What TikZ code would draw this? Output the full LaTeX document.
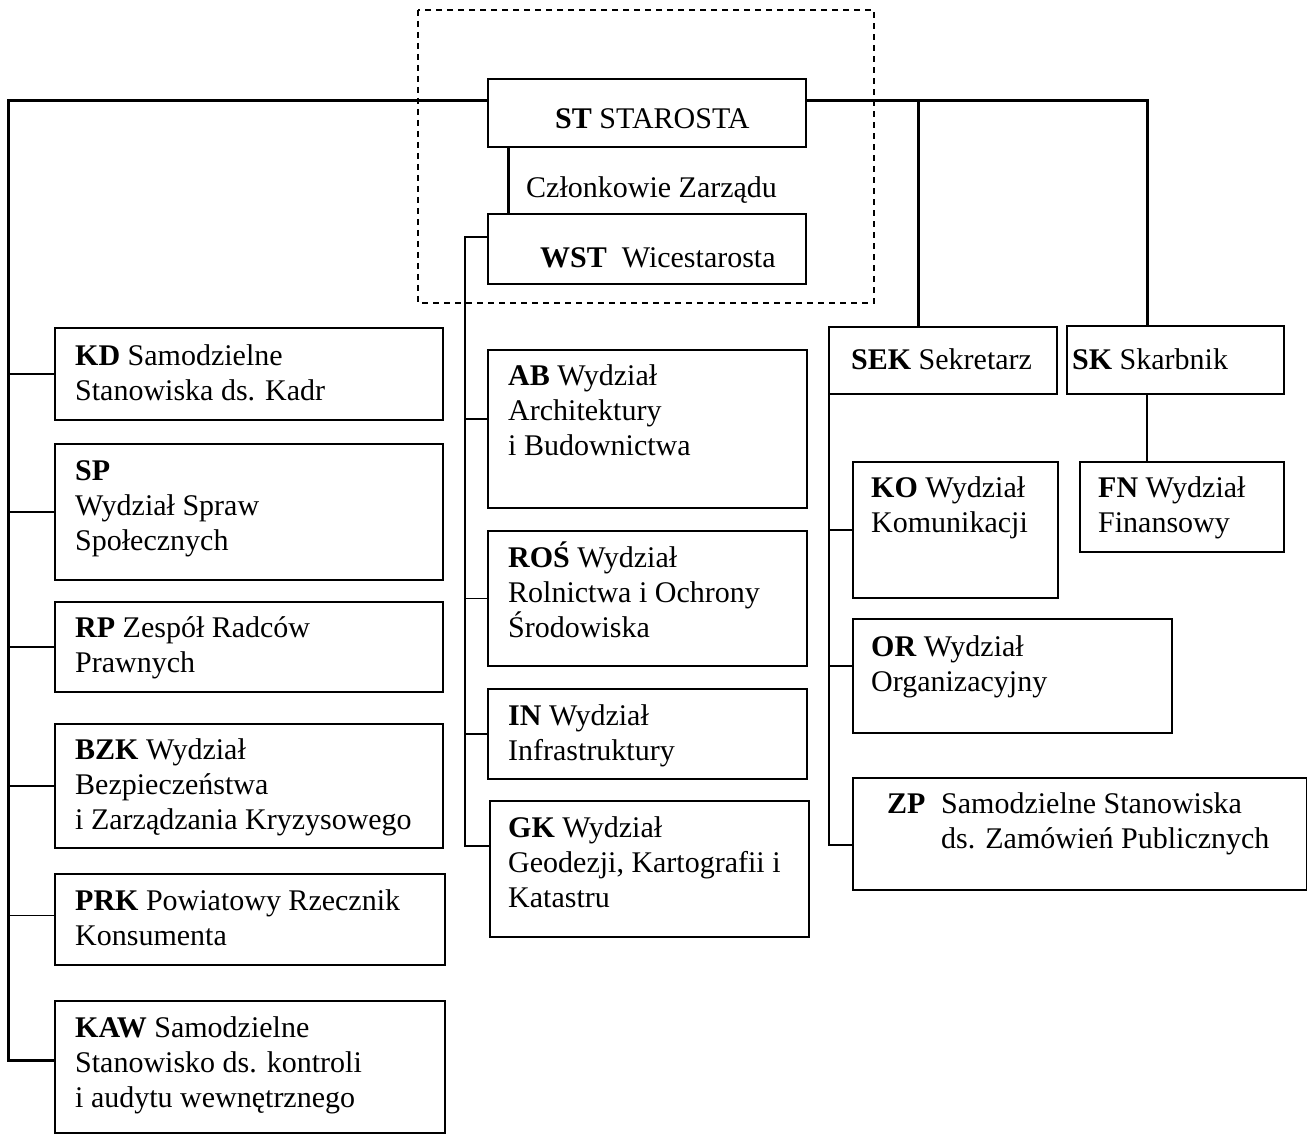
\documentclass[tikz,border=0pt]{standalone}
\usepackage{fontspec}
\setmainfont{Liberation Serif}
\usepackage{tikz}
\tikzstyle{dept} = [draw, line width=1.8pt, anchor=north west, inner sep=0pt]
\tikzstyle{desc} = [anchor=north west, align=left, inner sep=0pt, text height=#1, font=\fontsize{30}{35}\selectfont]
\tikzstyle{main} = [line width=3pt]
\tikzstyle{link} = [line width=1.5pt]
\tikzstyle{frame} = [line width=1.4pt, dash pattern=on 6pt off 5pt]
\begin{document}
\begin{tikzpicture}[x=1pt,y=-1pt]
			\useasboundingbox (0,0) rectangle (1307,1134);
			\draw[frame] (418,10) rectangle (874,303);
			
			\node[dept, minimum width=318pt, minimum height=68pt] (st) at (487,78) {};
			\node[desc=20pt] (stT) at (555,108) {\textbf{ST} STAROSTA};
			\node[desc=20pt] (czl) at (526,177) {Członkowie Zarządu};
			\node[dept, minimum width=318pt, minimum height=70pt] (wst) at (487,213) {};
			\node[desc=20pt] (wstT) at (540,247) {\textbf{WST}\ \ Wicestarosta};
			
			\node[dept, minimum width=388pt, minimum height=92pt] (kd) at (54,327) {};
			\node[desc=55pt] (kdT) at (75,345) {\textbf{KD} Samodzielne\\Stanowiska ds. Kadr};
			\node[dept, minimum width=388pt, minimum height=136pt] (sp) at (54,443) {};
			\node[desc=90pt] (spT) at (75,460) {\textbf{SP}\\Wydział Spraw\\Społecznych};
			\node[dept, minimum width=388pt, minimum height=90pt] (rp) at (54,601) {};
			\node[desc=55pt] (rpT) at (75,617) {\textbf{RP} Zespół Radców\\Prawnych};
			\node[dept, minimum width=388pt, minimum height=124pt] (bzk) at (54,723) {};
			\node[desc=90pt] (bzkT) at (75,739) {\textbf{BZK} Wydział\\Bezpieczeństwa\\i Zarządzania Kryzysowego};
			\node[dept, minimum width=390pt, minimum height=91pt] (prk) at (54,873) {};
			\node[desc=55pt] (prkT) at (75,890) {\textbf{PRK} Powiatowy Rzecznik\\Konsumenta};
			\node[dept, minimum width=390pt, minimum height=132pt] (kaw) at (54,1000) {};
			\node[desc=90pt] (kawT) at (75,1017) {\textbf{KAW} Samodzielne\\Stanowisko ds. kontroli\\i audytu wewnętrznego};
			
			\node[dept, minimum width=319pt, minimum height=158pt] (ab) at (487,349) {};
			\node[desc=90pt] (abT) at (508,365) {\textbf{AB} Wydział\\Architektury\\i Budownictwa};
			\node[dept, minimum width=319pt, minimum height=135pt] (ros) at (487,530) {};
			\node[desc=90pt] (rosT) at (508,547) {\textbf{ROŚ} Wydział\\Rolnictwa i Ochrony\\Środowiska};
			\node[dept, minimum width=319pt, minimum height=90pt] (in) at (487,688) {};
			\node[desc=55pt] (inT) at (508,705) {\textbf{IN} Wydział\\Infrastruktury};
			\node[dept, minimum width=319pt, minimum height=136pt] (gk) at (489,800) {};
			\node[desc=90pt] (gkT) at (508,817) {\textbf{GK} Wydział\\Geodezji, Kartografii i\\Katastru};
			
			\node[dept, minimum width=228pt, minimum height=67pt] (sek) at (828,326) {};
			\node[desc=20pt] (sekT) at (851,349) {\textbf{SEK} Sekretarz};
			\node[dept, minimum width=217pt, minimum height=68pt] (sk) at (1066,325) {};
			\node[desc=20pt] (skT) at (1072,349) {\textbf{SK} Skarbnik};
			\node[dept, minimum width=204pt, minimum height=90pt] (fn) at (1079,461) {};
			\node[desc=55pt] (fnT) at (1098,477) {\textbf{FN} Wydział\\Finansowy};
			\node[dept, minimum width=205pt, minimum height=136pt] (ko) at (852,461) {};
			\node[desc=55pt] (koT) at (871,477) {\textbf{KO} Wydział\\Komunikacji};
			\node[dept, minimum width=319pt, minimum height=114pt] (or) at (852,618) {};
			\node[desc=55pt] (orT) at (871,636) {\textbf{OR} Wydział\\Organizacyjny};
			\node[dept, minimum width=454pt, minimum height=112pt] (zp) at (852,777) {};
			\node[desc=55pt] (zpT) at (887,793) {\makebox[54pt][l]{\textbf{ZP}}Samodzielne Stanowiska\\\hspace*{54pt}ds. Zamówień Publicznych};
			
			\coordinate (ltop) at (8,101);
			\coordinate (lbot) at (8,1060);
			\coordinate (rtop) at (1147,101);
			\coordinate (sekj) at (918,101);
			\coordinate (mtop) at (465,237);
			\coordinate (mbot) at (465,846);
			\coordinate (stop) at (829,393);
			\coordinate (sbot) at (829,845);
			
			\draw[main] (ltop -| st.west) -- (ltop) -- (lbot) -- (lbot -| kaw.west);
			\draw[main] (rtop -| st.east) -- (rtop) -- (rtop |- sk.north);
			\draw[main] (sekj) -- (sekj |- sek.north);
			\draw[main] ([xshift=21pt]st.south west) -- ([xshift=21pt]wst.north west);
			
			\draw[link] (kd.west) -- (kd.west -| ltop);
			\draw[link] (sp.west) -- (sp.west -| ltop);
			\draw[link] (rp.west) -- (rp.west -| ltop);
			\draw[link] (bzk.west) -- (bzk.west -| ltop);
			\draw[link] ([yshift=4pt]prk.west) -- ([yshift=4pt]prk.west -| ltop);
			
			\draw[link] (mtop -| wst.west) -- (mtop) -- (mbot) -- (mbot -| gk.west);
			\draw[link] ([yshift=10pt]ab.west) -- ([yshift=10pt]ab.west -| mtop);
			\draw[link] (ros.west) -- (ros.west -| mtop);
			\draw[link] (in.west) -- (in.west -| mtop);
			
			\draw[link] (stop) -- (sbot) -- (sbot -| zp.west);
			\draw[link] (ko.west) -- (ko.west -| sbot);
			\draw[link] ([yshift=10pt]or.west) -- ([yshift=10pt]or.west -| sbot);
			\draw[link] (rtop |- sk.south) -- (rtop |- fn.north);
			
		\end{tikzpicture}
\end{document}
